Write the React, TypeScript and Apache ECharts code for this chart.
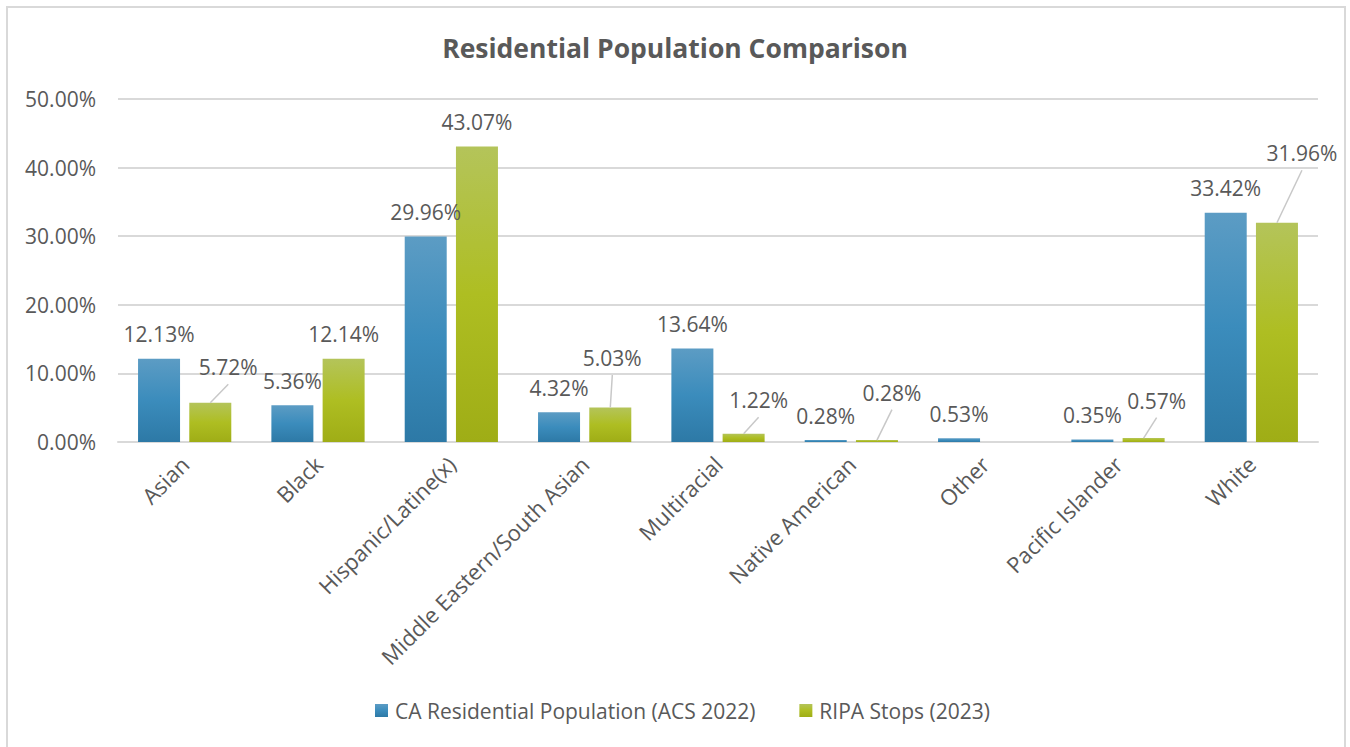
import React, { useEffect, useRef } from "react";
import * as echarts from "echarts";

const categories = [
  "Asian",
  "Black",
  "Hispanic/Latine(x)",
  "Middle Eastern/South Asian",
  "Multiracial",
  "Native American",
  "Other",
  "Pacific Islander",
  "White",
];
const residentialPop = [12.13, 5.36, 29.96, 4.32, 13.64, 0.28, 0.53, 0.35, 33.42];
const ripaStops = [5.72, 12.14, 43.07, 5.03, 1.22, 0.28, null, 0.57, 31.96];
const yTicks = { min: 0, max: 50, interval: 10 };
const seriesNames = ["CA Residential Population (ACS 2022)", "RIPA Stops (2023)"];

// label displacement for the RIPA series (layout only): data index -> [dx, dy]
const ripaLabelMoves: Record<number, [number, number]> = {
  0: [18, -11],
  3: [2, -25],
  4: [15, -9],
  5: [15, -23],
  7: [13, -13],
  8: [25, -45],
};

const FONT = "Open Sans";
const TXT = "#595959";
const BAR_W = 42;
const BAR_GAP = 0.22;
const LABEL_DIST = 14;
const LABEL_SIZE = 21;

export default function App() {
  const ref = useRef<HTMLDivElement>(null);
  useEffect(() => {
    if (!ref.current) return;
    const chart = echarts.init(ref.current, undefined, { renderer: "svg" });
    const blue = new echarts.graphic.LinearGradient(0, 0, 0, 1, [
      { offset: 0, color: "#5c9cc4" },
      { offset: 0.5, color: "#3b8cbc" },
      { offset: 1, color: "#2d79a6" },
    ]);
    const green = new echarts.graphic.LinearGradient(0, 0, 0, 1, [
      { offset: 0, color: "#b4c45a" },
      { offset: 0.5, color: "#aebe22" },
      { offset: 1, color: "#9fad16" },
    ]);
    const labelCfg = {
      show: true,
      position: "top" as const,
      distance: LABEL_DIST,
      color: TXT,
      fontFamily: FONT,
      fontSize: LABEL_SIZE,
      formatter: (p: any) => (p.value == null ? "" : Number(p.value).toFixed(2) + "%"),
    };
    // leader lines for the moved labels, drawn through the axes' coordinates
    const leaderData = Object.keys(ripaLabelMoves).map((k) => {
      const i = Number(k);
      return [i, ripaStops[i], ripaLabelMoves[i][0], ripaLabelMoves[i][1]];
    });
    const sideOffset = (BAR_W * BAR_GAP) / 2 + BAR_W / 2;
    chart.setOption({
      animation: false,
      backgroundColor: "#ffffff",
      title: {
        text: "Residential Population Comparison",
        left: "center",
        top: 29,
        textStyle: { fontFamily: FONT, fontSize: 26.5, fontWeight: "bold", color: TXT },
      },
      legend: {
        bottom: 21,
        left: 370,
        itemWidth: 13,
        itemHeight: 13,
        itemGap: 44,
        icon: "rect",
        textStyle: { fontFamily: FONT, fontSize: 21, color: TXT, padding: [0, 0, 0, 2] },
        data: seriesNames,
      },
      grid: { left: 118, right: 32, top: 99, bottom: 305, containLabel: false },
      xAxis: {
        type: "category",
        data: categories,
        axisLine: { lineStyle: { color: "#d9d9d9", width: 2 } },
        axisTick: { show: false },
        axisLabel: {
          rotate: 45,
          margin: 18,
          interval: 0,
          fontFamily: FONT,
          fontSize: 22,
          color: TXT,
        },
      },
      yAxis: {
        type: "value",
        min: yTicks.min,
        max: yTicks.max,
        interval: yTicks.interval,
        axisLine: { show: false },
        axisTick: { show: false },
        splitLine: { lineStyle: { color: "#d9d9d9", width: 2 } },
        axisLabel: {
          margin: 22,
          fontFamily: FONT,
          fontSize: 21,
          color: TXT,
          formatter: (v: number) => v.toFixed(2) + "%",
        },
      },
      series: [
        {
          name: seriesNames[0],
          type: "bar",
          data: residentialPop,
          barWidth: BAR_W,
          barGap: BAR_GAP * 100 + "%",
          itemStyle: { color: blue },
          label: labelCfg,
        },
        {
          name: seriesNames[1],
          type: "bar",
          data: ripaStops,
          barWidth: BAR_W,
          barGap: BAR_GAP * 100 + "%",
          itemStyle: { color: green },
          label: labelCfg,
          labelLayout: (p: any) => {
            const m = ripaLabelMoves[p.dataIndex];
            return m ? { dx: m[0], dy: m[1] } : {};
          },
        },
        {
          name: "leaders",
          type: "custom",
          silent: true,
          z: 5,
          encode: { x: 0, y: 1 },
          data: leaderData,
          renderItem: (params: any, api: any) => {
            const cat = api.value(0);
            const val = api.value(1);
            const dx = api.value(2);
            const dy = api.value(3);
            const p = api.coord([cat, val]);
            const x1 = p[0] + sideOffset;
            const y1 = p[1];
            const x2 = x1 + dx;
            const y2 = y1 - LABEL_DIST - LABEL_SIZE / 2 + dy + 17;
            return {
              type: "line",
              shape: { x1, y1, x2, y2 },
              style: { stroke: "#c8c8c8", lineWidth: 1.5 },
            };
          },
        },
      ],
    });
    return () => chart.dispose();
  }, []);
  return (
    <div style={{ position: "fixed", left: 0, top: 0, width: 1350, height: 747, background: "#fff" }}>
      <div ref={ref} style={{ position: "absolute", left: 0, top: 0, width: 1350, height: 747 }} />
      <div
        style={{
          position: "absolute",
          left: 6,
          top: 6,
          width: 1336,
          height: 760,
          border: "2px solid #d9d9d9",
          pointerEvents: "none",
        }}
      />
    </div>
  );
}
